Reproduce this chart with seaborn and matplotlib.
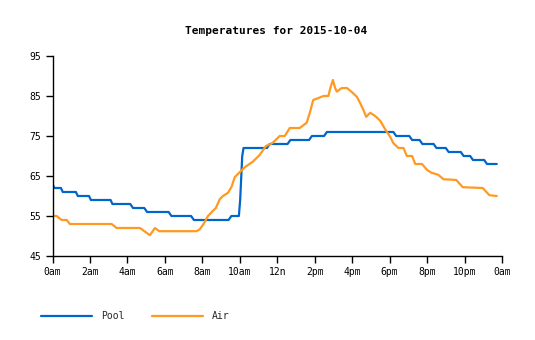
import matplotlib
matplotlib.use("Agg")
import matplotlib.pyplot as plt
import seaborn as sns
import pandas as pd
from matplotlib.lines import Line2D

title = "Temperatures for 2015-10-04"
series_names = ["Pool", "Air"]
x_tick_hours = [0, 2, 4, 6, 8, 10, 12, 14, 16, 18, 20, 22, 24]
x_tick_labels = ["0am", "2am", "4am", "6am", "8am", "10am", "12n", "2pm", "4pm", "6pm", "8pm", "10pm", "0am"]
y_ticks = [45, 55, 65, 75, 85, 95]

pool_hours = [0, 0.1, 0.45, 0.55, 1.25, 1.35, 1.95, 2.05, 3.1, 3.2, 4.15, 4.3, 4.9, 5.05,
              6.2, 6.35, 7.4, 7.55, 9.4, 9.55, 9.95, 10.02, 10.07, 10.13, 10.2, 11.45, 11.6,
              12.55, 12.7, 13.7, 13.85, 14.5, 14.65, 18.2, 18.35, 19.05, 19.2, 19.6, 19.75,
              20.35, 20.5, 21.0, 21.15, 21.8, 21.95, 22.3, 22.45, 23.05, 23.2, 23.72]
pool_temps = [63, 62, 62, 61, 61, 60, 60, 59, 59, 58, 58, 57, 57, 56,
              56, 55, 55, 54, 54, 55, 55, 59, 64, 70, 72, 72, 73,
              73, 74, 74, 75, 75, 76, 76, 75, 75, 74, 74, 73,
              73, 72, 72, 71, 71, 70, 70, 69, 69, 68, 68]

air_hours = [0, 0.22, 0.49, 0.76, 0.93, 3.16, 3.42, 4.67, 5.2, 5.47, 5.7, 7.69, 7.87, 8.09,
             8.3, 8.57, 8.72, 8.93, 9.1, 9.37, 9.56, 9.73, 9.96, 10.27, 10.7, 11.05, 11.4,
             11.65, 11.78, 12.13, 12.4, 12.67, 13.2, 13.57, 13.75, 13.92, 14.2, 14.47, 14.73,
             14.83, 14.97, 15.09, 15.18, 15.45, 15.72, 15.98, 16.25, 16.43, 16.6, 16.75, 16.96,
             17.23, 17.5, 17.76, 18.03, 18.2, 18.47, 18.74, 18.92, 19.2, 19.37, 19.73, 20.0,
             20.25, 20.6, 20.87, 21.56, 21.9, 22.97, 23.33, 23.72]
air_temps = [55, 55, 54, 54, 53, 53, 52, 52, 50.2, 52, 51.2, 51.2, 51.7, 53.2,
             55, 56.3, 57, 59.2, 60, 60.8, 62.3, 64.7, 65.8, 67.2, 68.6, 70.2, 72.5,
             73, 73.4, 75, 75, 77, 77, 78.3, 81, 84, 84.5, 85, 85,
             86.9, 89, 87, 86.1, 87, 87, 86, 84.8, 83.2, 81.5, 79.8, 80.8,
             80, 78.8, 76.7, 74.8, 73.2, 72, 72, 70, 70, 68, 68, 66.5,
             65.8, 65.3, 64.2, 64, 62.2, 62, 60.2, 60]

df = pd.concat([
    pd.DataFrame({"hour": pool_hours, "temp": pool_temps, "series": series_names[0]}),
    pd.DataFrame({"hour": air_hours, "temp": air_temps, "series": series_names[1]}),
], ignore_index=True)

sns.set_style("white")
plt.rcParams["font.family"] = ["DejaVu Sans Mono"]

fig = plt.figure(figsize=(5.35, 3.4), dpi=100)
ax = fig.add_axes([52.5 / 535, 84 / 340, (502 - 52.5) / 535, 200 / 340])

palette = {"Pool": "#0066cc", "Air": "#ff9922"}
sns.lineplot(data=df, x="hour", y="temp", hue="series", palette=palette,
             estimator=None, sort=False, linewidth=1.6, ax=ax, legend=False)

ax.set_xlim(0, 24)
ax.set_ylim(45, 95)
ax.set_xticks(x_tick_hours)
ax.set_xticklabels(x_tick_labels)
ax.set_yticks(y_ticks)
ax.set_xlabel("")
ax.set_ylabel("")
for s in ["top", "right"]:
    ax.spines[s].set_visible(False)
for s in ["left", "bottom"]:
    ax.spines[s].set_color("black")
    ax.spines[s].set_linewidth(1.0)
ax.tick_params(axis="both", direction="out", length=5, width=1, color="black",
               labelsize=7, labelcolor="black", pad=3, left=True, bottom=True)
ax.grid(False)

fig.text(276 / 535, 1 - 31 / 340, title, ha="center", va="center",
         fontsize=8, fontweight="bold", color="black")

handles = [Line2D([], [], color=palette[n], linewidth=1.6) for n in series_names]
fig.legend(handles, series_names, loc="center left", bbox_to_anchor=(32 / 535, 1 - 316 / 340),
           ncol=2, frameon=False, fontsize=7, handlelength=5.3, handletextpad=0.9,
           columnspacing=2.8)

fig.savefig("out.png", dpi=100)
